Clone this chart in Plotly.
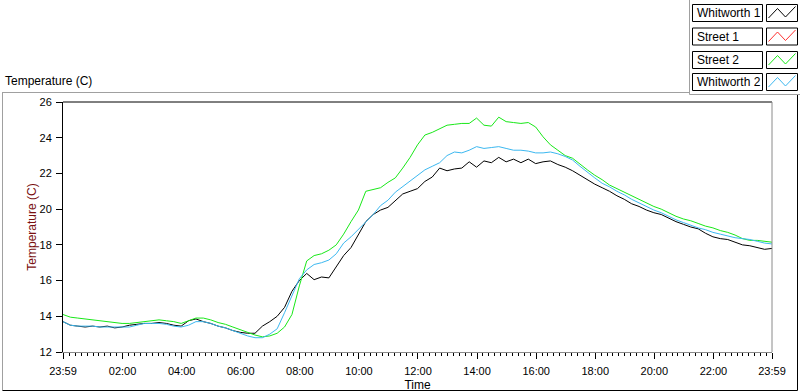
import pandas as pd
import plotly.graph_objects as go

# ---------------- data (15-minute readings, 23:59 -> 23:59) ----------------
start = "2014-01-01 23:59"
end = "2014-01-02 23:59"
step = "15min"

whitworth_1 = [
    13.70, 13.50, 13.45, 13.40, 13.45, 13.40, 13.45, 13.35, 13.40, 13.50,
    13.55, 13.60, 13.60, 13.65, 13.60, 13.50, 13.45, 13.75, 13.85, 13.70,
    13.60, 13.45, 13.35, 13.20, 13.10, 13.05, 13.05, 13.45, 13.70, 14.00,
    14.50, 15.40, 16.00, 16.40, 16.05, 16.20, 16.15, 16.80, 17.40, 17.85,
    18.60, 19.30, 19.70, 19.95, 20.10, 20.45, 20.85, 21.00, 21.15, 21.55,
    21.80, 22.30, 22.15, 22.25, 22.30, 22.65, 22.35, 22.70, 22.60, 22.90,
    22.65, 22.80, 22.60, 22.80, 22.55, 22.65, 22.70, 22.50, 22.35, 22.15,
    21.90, 21.65, 21.40, 21.20, 21.00, 20.75, 20.55, 20.30, 20.15, 19.95,
    19.80, 19.70, 19.50, 19.30, 19.15, 19.00, 18.90, 18.65, 18.45, 18.35,
    18.30, 18.15, 18.00, 17.95, 17.85, 17.75, 17.80,
]
street_1 = []
street_2 = [
    14.10, 13.95, 13.90, 13.85, 13.80, 13.75, 13.70, 13.65, 13.60, 13.60,
    13.65, 13.70, 13.75, 13.80, 13.75, 13.70, 13.60, 13.75, 13.90, 13.90,
    13.80, 13.65, 13.55, 13.40, 13.25, 13.10, 12.95, 12.85, 12.90, 13.05,
    13.40, 14.10, 15.70, 17.10, 17.40, 17.50, 17.70, 18.00, 18.60, 19.30,
    19.95, 21.00, 21.10, 21.20, 21.50, 21.75, 22.30, 22.90, 23.60, 24.15,
    24.30, 24.50, 24.70, 24.75, 24.80, 24.80, 25.10, 24.70, 24.65, 25.15,
    24.90, 24.85, 24.80, 24.85, 24.60, 24.05, 23.60, 23.30, 23.00, 22.85,
    22.50, 22.20, 21.90, 21.65, 21.35, 21.15, 20.95, 20.75, 20.55, 20.35,
    20.15, 20.00, 19.80, 19.60, 19.45, 19.35, 19.20, 19.05, 18.95, 18.80,
    18.70, 18.55, 18.35, 18.25, 18.25, 18.20, 18.15,
]
whitworth_2 = [
    13.70, 13.50, 13.45, 13.45, 13.45, 13.40, 13.40, 13.40, 13.40, 13.40,
    13.50, 13.60, 13.60, 13.60, 13.55, 13.45, 13.40, 13.50, 13.70, 13.70,
    13.60, 13.45, 13.35, 13.20, 13.05, 12.90, 12.80, 12.80, 13.00, 13.30,
    14.20, 15.20, 16.10, 16.60, 16.90, 17.00, 17.15, 17.50, 18.10, 18.45,
    18.85, 19.30, 19.70, 20.20, 20.50, 20.95, 21.25, 21.55, 21.85, 22.20,
    22.40, 22.60, 23.00, 23.20, 23.15, 23.30, 23.50, 23.40, 23.45, 23.50,
    23.40, 23.30, 23.30, 23.25, 23.15, 23.15, 23.20, 23.10, 22.95, 22.75,
    22.40, 22.05, 21.75, 21.45, 21.25, 21.00, 20.80, 20.55, 20.35, 20.15,
    19.95, 19.80, 19.60, 19.40, 19.25, 19.10, 18.95, 18.85, 18.70, 18.60,
    18.50, 18.40, 18.35, 18.30, 18.20, 18.10, 18.05,
]

series_names = ["Whitworth 1", "Street 1", "Street 2", "Whitworth 2"]
series_colors = ["#000000", "#ff3030", "#18e818", "#3cb8f0"]

tick_labels = ["23:59", "02:00", "04:00", "06:00", "08:00", "10:00", "12:00",
               "14:00", "16:00", "18:00", "20:00", "22:00", "23:59"]
y_ticks = [12, 14, 16, 18, 20, 22, 24, 26]

# ---------------- build ----------------
times = pd.date_range(start, end, freq=step)
tick_vals = [pd.Timestamp(start)] + list(pd.date_range("2014-01-02 02:00", "2014-01-02 22:00", freq="2h")) + [pd.Timestamp(end)]

W, H = 800, 392
L, R, T, B = 63, 28, 102, 40
PW, PH = W - L - R, H - T - B


def px(x):
    return (x - L) / PW


def py(y):
    return (H - B - y) / PH


fig = go.Figure()
for name, vals, col in zip(series_names, [whitworth_1, street_1, street_2, whitworth_2], series_colors):
    fig.add_trace(go.Scatter(
        x=times[:len(vals)], y=vals, mode="lines", name=name,
        line=dict(color=col, width=1), showlegend=False, hoverinfo="skip",
    ))

font = "Liberation Sans, Arial, sans-serif"

fig.update_layout(
    width=W, height=H, autosize=False,
    margin=dict(l=L, r=R, t=T, b=B, pad=0),
    paper_bgcolor="white", plot_bgcolor="white",
    font=dict(family=font, size=11, color="#000000"),
    xaxis=dict(
        range=[times[0], times[-1]], tickmode="array", tickvals=tick_vals, ticktext=tick_labels,
        showgrid=False, zeroline=False, showline=True, linecolor="#8a8a8a", linewidth=1,
        ticks="outside", ticklen=6, tickcolor="#000000", tickwidth=1, ticklabelstandoff=3,
        automargin=False,
        minor=dict(ticks="outside", ticklen=3, tickcolor="#000000", tickwidth=1,
                   tick0="2014-01-02 00:00", dtick=12 * 60 * 1000, showgrid=False),
        title=dict(text="Time", font=dict(size=12, color="#000000"), standoff=6),
        tickfont=dict(size=11),
    ),
    yaxis=dict(
        range=[12, 26], tickmode="array", tickvals=y_ticks, ticktext=[str(v) for v in y_ticks],
        showgrid=False, zeroline=False, showline=True, linecolor="#000000", linewidth=1,
        ticks="outside", ticklen=6, tickcolor="#000000", tickwidth=1, ticklabelstandoff=2,
        automargin=False,
        title=dict(text="Temperature (C)", font=dict(size=12, color="#7a1010"), standoff=0),
        tickfont=dict(size=11),
    ),
)

shapes = []
# plot frame: top black, right grey
shapes.append(dict(type="line", xref="paper", yref="paper", x0=0, x1=1, y0=1, y1=1,
                   line=dict(color="#000000", width=1)))
shapes.append(dict(type="line", xref="paper", yref="paper", x0=1, x1=1, y0=0, y1=1,
                   line=dict(color="#8a8a8a", width=1)))
# outer chart frame
shapes.append(dict(type="line", xref="paper", yref="paper", x0=px(2), x1=px(689.5), y0=py(92.5), y1=py(92.5),
                   line=dict(color="#a0a0a0", width=1)))
shapes.append(dict(type="line", xref="paper", yref="paper", x0=px(2.5), x1=px(2.5), y0=py(92.5), y1=py(390.5),
                   line=dict(color="#a0a0a0", width=1)))
shapes.append(dict(type="line", xref="paper", yref="paper", x0=px(2.5), x1=px(797.5), y0=py(390.5), y1=py(390.5),
                   line=dict(color="#000000", width=1)))
shapes.append(dict(type="line", xref="paper", yref="paper", x0=px(797.5), x1=px(797.5), y0=py(94.5), y1=py(390.5),
                   line=dict(color="#000000", width=1)))
# legend frame
shapes.append(dict(type="line", xref="paper", yref="paper", x0=px(689.5), x1=px(689.5), y0=py(0), y1=py(94.5),
                   line=dict(color="#a0a0a0", width=1)))
shapes.append(dict(type="line", xref="paper", yref="paper", x0=px(689.5), x1=px(800), y0=py(94.5), y1=py(94.5),
                   line=dict(color="#a0a0a0", width=1)))

annotations = [dict(text="Temperature (C)", xref="paper", yref="paper", x=px(3), y=py(81),
                    xanchor="left", yanchor="middle", showarrow=False,
                    font=dict(size=12, color="#000000", family=font))]

tops = [4.5, 28.0, 51.5, 73.5]
for name, col, top in zip(series_names, series_colors, tops):
    bot = top + 17
    shapes.append(dict(type="rect", xref="paper", yref="paper", x0=px(692.5), x1=px(762.5),
                       y0=py(top), y1=py(bot), line=dict(color="#000000", width=1), fillcolor="white"))
    shapes.append(dict(type="rect", xref="paper", yref="paper", x0=px(766.5), x1=px(797.5),
                       y0=py(top), y1=py(bot), line=dict(color="#000000", width=1), fillcolor="white"))
    zig = [(768.5, top + 13.5), (777.5, top + 4), (785.5, top + 12.5), (795.5, top + 2)]
    path = "M " + " L ".join(f"{px(a):.5f},{py(b):.5f}" for a, b in zig)
    shapes.append(dict(type="path", xref="paper", yref="paper", path=path,
                       line=dict(color=col, width=1)))
    annotations.append(dict(text=name, xref="paper", yref="paper", x=px(695), y=py(top + 8.5),
                            xanchor="left", yanchor="middle", showarrow=False,
                            font=dict(size=12, color="#000000", family=font)))

fig.update_layout(shapes=shapes, annotations=annotations)
fig.write_html("out.html", config={"displayModeBar": False},
               post_script="document.body.style.margin='0';document.body.style.overflow='hidden';")
